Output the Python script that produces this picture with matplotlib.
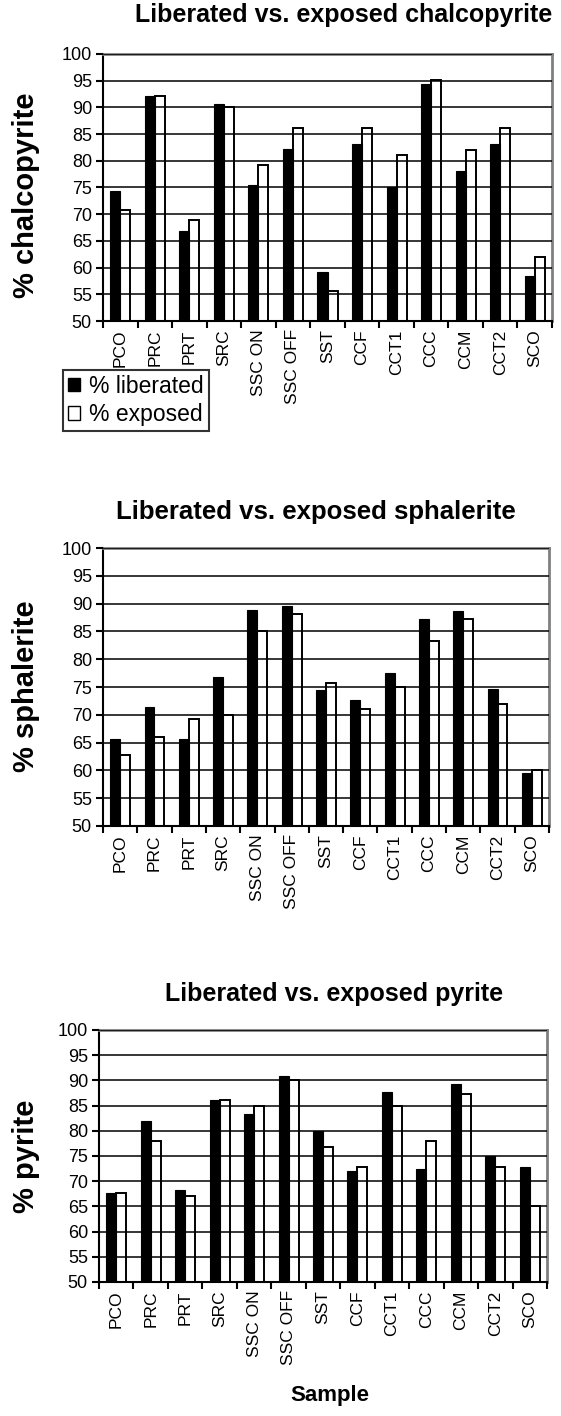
import numpy as np
import matplotlib.pyplot as plt
from matplotlib.patches import Patch

plt.rcParams['font.family'] = ['Liberation Sans', 'DejaVu Sans']

# Samples and percentages
samples = ['PCO', 'PRC', 'PRT', 'SRC', 'SSC ON', 'SSC OFF', 'SST',
           'CCF', 'CCT1', 'CCC', 'CCM', 'CCT2', 'SCO']

chalco_lib = [74.3, 92.1, 66.8, 90.7, 75.4, 82.2, 59.2, 83.2, 75.0, 94.3, 78.1, 83.2, 58.5]
chalco_exp = [70.8, 92.1, 69.0, 90.0, 79.2, 86.2, 55.7, 86.2, 81.0, 95.1, 82.1, 86.2, 61.9]

sphal_lib = [65.7, 71.4, 65.7, 76.8, 88.9, 89.6, 74.4, 72.7, 77.6, 87.2, 88.6, 74.7, 59.6]
sphal_exp = [62.8, 66.0, 69.2, 70.0, 85.0, 88.2, 75.7, 71.0, 75.0, 83.2, 87.2, 72.0, 60.0]

pyrite_lib = [67.7, 82.0, 68.2, 86.1, 83.3, 90.8, 80.0, 72.0, 87.7, 72.4, 89.3, 75.0, 72.8]
pyrite_exp = [67.7, 78.0, 67.0, 86.1, 85.0, 90.0, 76.8, 72.8, 85.0, 78.0, 87.3, 72.8, 65.0]

W, H = 561, 1416
fig = plt.figure(figsize=(W / 100, H / 100), dpi=100)


def make_axes(left, top, right, bottom):
    # pixel box -> figure fraction
    return fig.add_axes([left / W, 1 - bottom / H, (right - left) / W, (bottom - top) / H])


def draw_chart(ax, lib, exp):
    x = np.arange(len(samples))
    w = 0.29
    ax.bar(x - w / 2, lib, w, color='black', edgecolor='black', linewidth=0.8)
    ax.bar(x + w / 2, exp, w, facecolor='none', edgecolor='black', linewidth=1.4)
    ax.set_axisbelow(False)
    ax.set_ylim(50, 100)
    ax.set_xlim(-0.5, len(samples) - 0.5)
    ax.set_yticks(np.arange(50, 101, 5))
    ax.grid(axis='y', color='black', linewidth=1.1)
    ax.set_xticks(x)
    ax.set_xticklabels(samples, rotation=90, fontsize=12.5)
    ax.set_xticks(np.arange(-0.5, len(samples)), minor=True)
    ax.tick_params(axis='x', which='major', length=0, pad=6)
    ax.tick_params(axis='x', which='minor', length=5, width=1.5, direction='out')
    ax.tick_params(axis='y', length=5, width=1.5, direction='out', labelsize=13, pad=3)
    for s in ['left', 'bottom']:
        ax.spines[s].set_color('black')
        ax.spines[s].set_linewidth(1.5)
    for s in ['top', 'right']:
        ax.spines[s].set_color('#808080')
        ax.spines[s].set_linewidth(2)


ax1 = make_axes(103, 54, 552, 321)
draw_chart(ax1, chalco_lib, chalco_exp)
fig.text(344 / W, 1 - 15 / H, 'Liberated vs. exposed chalcopyrite', ha='center', va='center',
         fontsize=18, fontweight='bold')
fig.text(26 / W, 1 - 195 / H, '% chalcopyrite', rotation=90, ha='center', va='center',
         fontsize=21, fontweight='bold')

ax2 = make_axes(103, 548, 549, 826)
draw_chart(ax2, sphal_lib, sphal_exp)
fig.text(316 / W, 1 - 512 / H, 'Liberated vs. exposed sphalerite', ha='center', va='center',
         fontsize=18.5, fontweight='bold')
fig.text(26 / W, 1 - 686 / H, '% sphalerite', rotation=90, ha='center', va='center',
         fontsize=21, fontweight='bold')

ax3 = make_axes(99, 1030, 547, 1282)
draw_chart(ax3, pyrite_lib, pyrite_exp)
fig.text(334 / W, 1 - 994 / H, 'Liberated vs. exposed pyrite', ha='center', va='center',
         fontsize=18, fontweight='bold')
fig.text(26 / W, 1 - 1156 / H, '% pyrite', rotation=90, ha='center', va='center',
         fontsize=21, fontweight='bold')
fig.text(330 / W, 1 - 1395 / H, 'Sample', ha='center', va='center',
         fontsize=16, fontweight='bold')

handles = [Patch(facecolor='black', edgecolor='black', label='% liberated'),
           Patch(facecolor='white', edgecolor='black', label='% exposed')]
leg = fig.legend(handles=handles, loc='upper left', bbox_to_anchor=(63 / W, 1 - 370 / H),
                 fontsize=16.5, frameon=True, fancybox=False, borderpad=0.2,
                 handlelength=0.55, handleheight=0.55, handletextpad=0.4, labelspacing=0.25,
                 borderaxespad=0)
leg.get_frame().set_edgecolor('black')
leg.get_frame().set_linewidth(1.5)

fig.savefig('out.png', dpi=100, facecolor='white')
